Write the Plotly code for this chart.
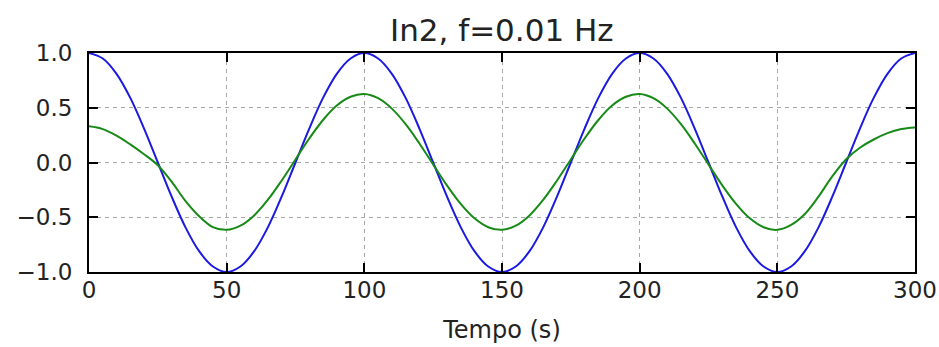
import plotly.graph_objects as go

# Time samples (s)
tempo = [0, 5, 10, 15, 20, 25, 30, 35, 40, 45,
         50, 55, 60, 65, 70, 75, 80, 85, 90, 95,
         100, 105, 110, 115, 120, 125, 130, 135, 140, 145,
         150, 155, 160, 165, 170, 175, 180, 185, 190, 195,
         200, 205, 210, 215, 220, 225, 230, 235, 240, 245,
         250, 255, 260, 265, 270, 275, 280, 285, 290, 295, 300]

# Input signal (blue)
entrada = [1.00, 0.95, 0.81, 0.59, 0.31, 0.00, -0.31, -0.59, -0.81, -0.95,
           -1.00, -0.95, -0.81, -0.59, -0.31, 0.00, 0.31, 0.59, 0.81, 0.95,
           1.00, 0.95, 0.81, 0.59, 0.31, 0.00, -0.31, -0.59, -0.81, -0.95,
           -1.00, -0.95, -0.81, -0.59, -0.31, 0.00, 0.31, 0.59, 0.81, 0.95,
           1.00, 0.95, 0.81, 0.59, 0.31, 0.00, -0.31, -0.59, -0.81, -0.95,
           -1.00, -0.95, -0.81, -0.59, -0.31, 0.00, 0.31, 0.59, 0.81, 0.95, 1.00]

# Response (green)
resposta = [0.33, 0.305, 0.245, 0.165, 0.075, -0.025, -0.175, -0.35, -0.49, -0.59,
            -0.615, -0.577, -0.483, -0.340, -0.164, 0.028, 0.219, 0.388, 0.52, 0.60,
            0.625, 0.587, 0.492, 0.350, 0.174, -0.018, -0.209, -0.378, -0.510, -0.591,
            -0.615, -0.577, -0.483, -0.340, -0.164, 0.028, 0.219, 0.388, 0.52, 0.60,
            0.625, 0.587, 0.492, 0.350, 0.174, -0.018, -0.209, -0.378, -0.510, -0.591,
            -0.615, -0.57, -0.47, -0.31, -0.125, 0.03, 0.135, 0.21, 0.268, 0.305, 0.32]

x_ticks = [0, 50, 100, 150, 200, 250, 300]
y_ticks = [-1.0, -0.5, 0.0, 0.5, 1.0]

FONT = "DejaVu Sans"

fig = go.Figure()
fig.add_trace(go.Scatter(x=tempo, y=entrada, mode="lines",
                         line=dict(color="#1a1ae0", width=2, shape="spline"),
                         showlegend=False))
fig.add_trace(go.Scatter(x=tempo, y=resposta, mode="lines",
                         line=dict(color="#178a17", width=2, shape="spline"),
                         showlegend=False))

axis_common = dict(
    showline=True, linecolor="black", linewidth=2, mirror="allticks",
    ticks="inside", ticklen=9, tickwidth=1.5, tickcolor="black",
    showgrid=True, gridcolor="#a8a8a8", gridwidth=1, griddash="4px,4px",
    zeroline=False, automargin=False,
    tickfont=dict(family=FONT, size=23, color="#222222"),
)

fig.update_xaxes(range=[0, 300], tickvals=x_ticks, ticktext=[str(v) for v in x_ticks],
                 title=dict(text="Tempo (s)", font=dict(family=FONT, size=24, color="#222222"),
                            standoff=20),
                 ticklabelstandoff=-4, **axis_common)
fig.update_yaxes(range=[-1.0, 1.0], tickvals=y_ticks, tickformat=".1f",
                 ticklabelstandoff=10, **axis_common)

fig.add_annotation(text="In2, f=0.01 Hz", xref="paper", yref="paper",
                   x=0.5, y=1.105, xanchor="center", yanchor="middle",
                   showarrow=False, font=dict(family=FONT, size=31, color="#222222"))

fig.update_layout(
    width=939, height=347,
    margin=dict(l=89, r=24, t=53, b=75),
    paper_bgcolor="white", plot_bgcolor="white",
)

fig.write_html("out.html")
